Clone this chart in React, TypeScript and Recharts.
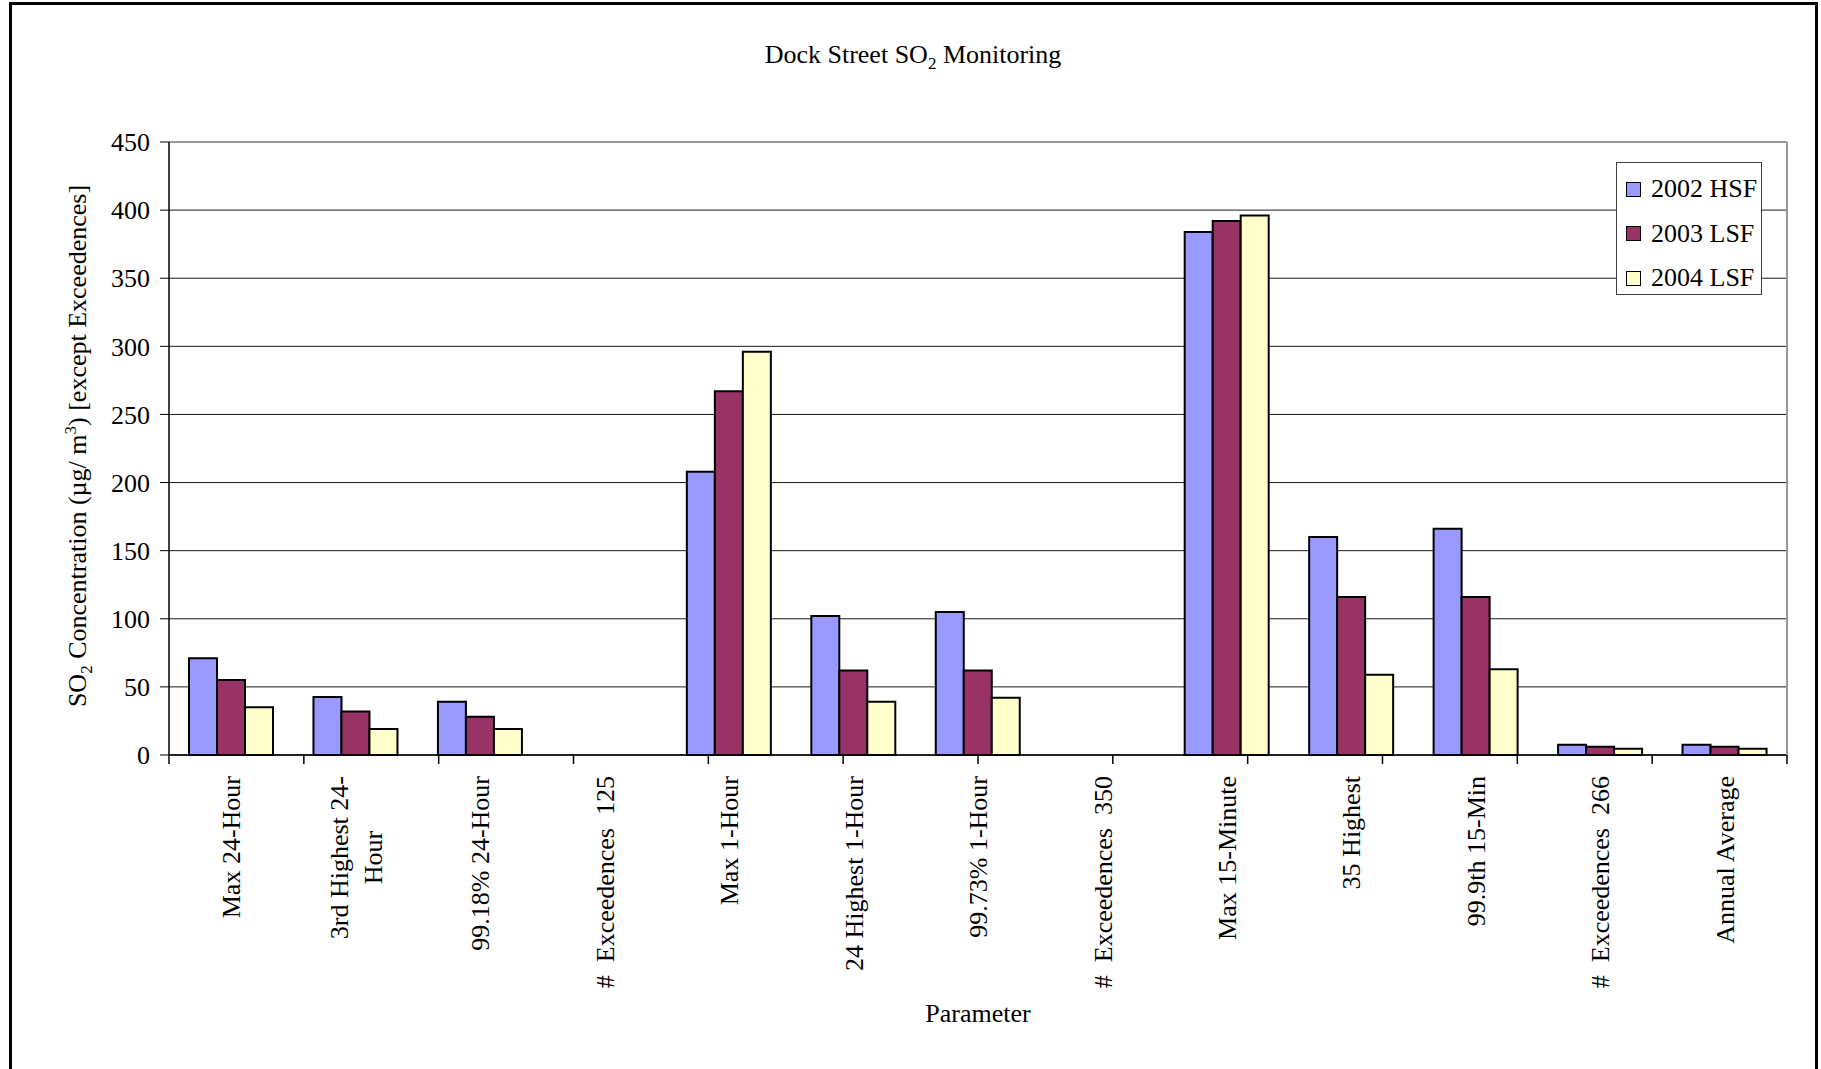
import { Bar, BarChart, CartesianGrid, Legend, ReferenceLine, XAxis, YAxis } from 'recharts'

const categories = [
  'Max 24-Hour',
  '3rd Highest 24-\nHour',
  '99.18% 24-Hour',
  '#  Exceedences  125',
  'Max 1-Hour',
  '24 Highest 1-Hour',
  '99.73% 1-Hour',
  '#  Exceedences  350',
  'Max 15-Minute',
  '35 Highest',
  '99.9th 15-Min',
  '#  Exceedences  266',
  'Annual Average',
]

const hsf2002 = [71, 42.5, 39, 0, 208, 102, 105, 0, 384, 160, 166, 7.5, 7.5]
const lsf2003 = [55, 32, 28, 0, 267, 62, 62, 0, 392, 116, 116, 6, 6]
const lsf2004 = [35, 19, 19, 0, 296, 39, 42, 0, 396, 59, 63, 4.5, 4.5]

const yTicks = [0, 50, 100, 150, 200, 250, 300, 350, 400, 450]

// category boundaries 0..13, used for the Excel-style tick marks between groups
const edgeTicks = [...categories.map((_, i) => i), categories.length]

const rows = categories.map((name, i) => ({
  name,
  hsf2002: hsf2002[i],
  lsf2003: lsf2003[i],
  lsf2004: lsf2004[i],
}))

const serif = '"Liberation Serif", "Times New Roman", serif'
const fontSize = 26
const lineGap = 34

let measureCtx: CanvasRenderingContext2D | null = null
function measure(text: string) {
  if (!measureCtx) {
    measureCtx = document.createElement('canvas').getContext('2d')
  }
  if (!measureCtx) return text.length * fontSize * 0.45
  measureCtx.font = `${fontSize}px ${serif}`
  return measureCtx.measureText(text).width
}

function CategoryTick({ x, y, payload }: any) {
  const lines = String(payload.value).split('\n')
  const top = y + 20
  const textStyle = { whiteSpace: 'pre' as const }
  if (lines.length === 1) {
    return (
      <text
        transform={`translate(${x},${top}) rotate(-90)`}
        textAnchor="end"
        dy="0.35em"
        fontFamily={serif}
        fontSize={fontSize}
        fill="#000"
        style={textStyle}
      >
        {lines[0]}
      </text>
    )
  }
  const longest = Math.max(...lines.map(measure))
  return (
    <g transform={`translate(${x},${top + longest / 2}) rotate(-90)`}>
      {lines.map((line, i) => (
        <text
          key={i}
          y={(i - (lines.length - 1) / 2) * lineGap}
          textAnchor="middle"
          dy="0.35em"
          fontFamily={serif}
          fontSize={fontSize}
          fill="#000"
          style={textStyle}
        >
          {line}
        </text>
      ))}
    </g>
  )
}

// edge axis only draws tick marks, no labels
const noLabel = () => <g />

function renderLegend({ payload }: any) {
  return (
    <div
      style={{
        boxSizing: 'border-box',
        width: 146,
        height: 133,
        border: '1.5px solid #404040',
        background: '#fff',
        paddingTop: 4,
        fontFamily: serif,
        fontSize,
      }}
    >
      {(payload ?? []).map((entry: any) => (
        <div key={entry.value} style={{ display: 'flex', alignItems: 'center', height: 44.5 }}>
          <span
            style={{
              boxSizing: 'border-box',
              width: 15,
              height: 15,
              marginLeft: 9,
              marginRight: 10,
              border: '1.5px solid #000',
              background: entry.color,
            }}
          />
          <span>{entry.value}</span>
        </div>
      ))}
    </div>
  )
}

export default function App() {
  return (
    <div
      style={{
        position: 'absolute',
        left: 0,
        top: 0,
        width: 1821,
        height: 1069,
        overflow: 'hidden',
        background: '#fff',
        fontFamily: serif,
        color: '#000',
      }}
    >
      <div
        style={{
          position: 'absolute',
          left: 9,
          top: 2,
          width: 1809,
          height: 1200,
          boxSizing: 'border-box',
          border: '3px solid #000',
        }}
      />

      <div
        style={{
          position: 'absolute',
          left: 913,
          top: 57,
          transform: 'translate(-50%, -50%)',
          whiteSpace: 'nowrap',
          fontSize,
        }}
      >
        Dock Street SO<sub style={{ fontSize: 17 }}>2</sub> Monitoring
      </div>

      <div
        style={{
          position: 'absolute',
          left: 79,
          top: 446,
          transform: 'translate(-50%, -50%) rotate(-90deg)',
          whiteSpace: 'nowrap',
          fontSize,
        }}
      >
        SO<sub style={{ fontSize: 17 }}>2</sub> Concentration (µg/ m<sup style={{ fontSize: 17 }}>3</sup>) [except
        Exceedences]
      </div>

      <div
        style={{
          position: 'absolute',
          left: 978,
          top: 1014,
          transform: 'translate(-50%, -50%)',
          whiteSpace: 'nowrap',
          fontSize,
        }}
      >
        Parameter
      </div>

      <div style={{ position: 'absolute', left: 0, top: 0 }}>
        <BarChart
          width={1821}
          height={1069}
          data={rows}
          margin={{ top: 142, right: 33, bottom: 63, left: 89 }}
          barGap={0}
          barSize={28}
        >
          <CartesianGrid vertical={false} stroke="#1a1a1a" />
          <XAxis
            xAxisId={0}
            type="number"
            domain={[0, categories.length]}
            allowDataOverflow
            ticks={edgeTicks}
            interval={0}
            tick={noLabel}
            tickSize={9}
            tickLine={{ stroke: '#000', strokeWidth: 1.5 }}
            axisLine={{ stroke: '#000', strokeWidth: 1.5 }}
            height={1}
          />
          <XAxis
            xAxisId={1}
            dataKey="name"
            interval={0}
            tick={<CategoryTick />}
            tickLine={false}
            axisLine={false}
            tickSize={0}
            tickMargin={0}
            height={250}
          />
          <YAxis
            domain={[0, 450]}
            ticks={yTicks}
            interval={0}
            width={80}
            tickSize={9}
            tickMargin={10}
            tickLine={{ stroke: '#000' }}
            axisLine={{ stroke: '#000', strokeWidth: 1.5 }}
            tick={{ fill: '#000', fontSize, fontFamily: serif }}
          />
          <YAxis
            yAxisId="frame"
            orientation="right"
            domain={[0, 450]}
            width={1}
            tick={false}
            tickLine={false}
            axisLine={{ stroke: '#999', strokeWidth: 2 }}
          />
          <ReferenceLine y={450} stroke="#999" strokeWidth={2} />
          <Legend
            layout="vertical"
            align="center"
            verticalAlign="middle"
            wrapperStyle={{ left: 1616, top: 162, width: 146, height: 133 }}
            content={renderLegend}
          />
          <Bar
            xAxisId={1}
            dataKey="hsf2002"
            name="2002 HSF"
            fill="#9999FF"
            stroke="#000"
            strokeWidth={2}
            isAnimationActive={false}
          />
          <Bar
            xAxisId={1}
            dataKey="lsf2003"
            name="2003 LSF"
            fill="#993366"
            stroke="#000"
            strokeWidth={2}
            isAnimationActive={false}
          />
          <Bar
            xAxisId={1}
            dataKey="lsf2004"
            name="2004 LSF"
            fill="#FFFFCC"
            stroke="#000"
            strokeWidth={2}
            isAnimationActive={false}
          />
        </BarChart>
      </div>
    </div>
  )
}
